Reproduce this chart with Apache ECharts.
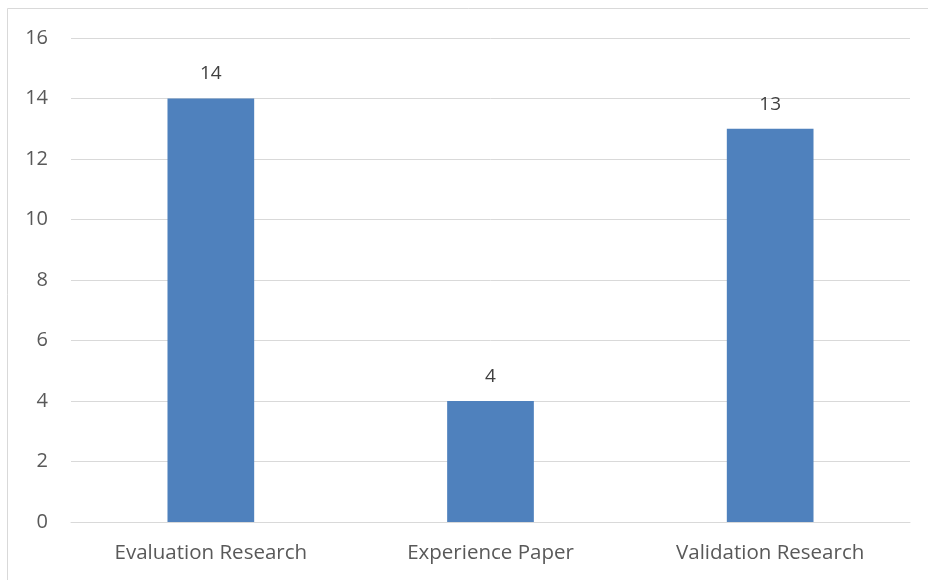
<!DOCTYPE html>
<html>
<head>
<meta charset="utf-8">
<script src="https://cdn.jsdelivr.net/npm/echarts@6/dist/echarts.min.js"></script>
<style>
  html, body { margin: 0; padding: 0; background: #fff; }
  #chart { width: 928px; height: 580px; }
</style>
</head>
<body>
<div id="chart"></div>
<script>
// Paper counts per research type
const categories = ['Evaluation Research', 'Experience Paper', 'Validation Research'];
const counts = [14, 4, 13];
const yTicks = { min: 0, max: 16, interval: 2 };

const textColor = '#595959';
const font = '"Open Sans", "Liberation Sans", sans-serif';

const chart = echarts.init(document.getElementById('chart'), null, { renderer: 'canvas' });
chart.setOption({
  backgroundColor: '#fff',
  animation: false,
  graphic: [{
    type: 'rect',
    shape: { x: 7.5, y: 8.5, width: 1000, height: 1000 },
    style: { fill: 'none', stroke: '#d9d9d9', lineWidth: 1 },
    silent: true
  }],
  grid: { left: 71, right: 18, top: 38, bottom: 58, containLabel: false },
  xAxis: {
    type: 'category',
    data: categories,
    axisLine: { show: true, lineStyle: { color: '#d9d9d9', width: 1 } },
    axisTick: { show: false },
    axisLabel: { color: textColor, fontSize: 20.5, fontFamily: font, margin: 21 }
  },
  yAxis: {
    type: 'value',
    min: yTicks.min, max: yTicks.max, interval: yTicks.interval,
    axisLine: { show: false },
    axisTick: { show: false },
    splitLine: { lineStyle: { color: '#d9d9d9', width: 1 } },
    axisLabel: { color: textColor, fontSize: 20, fontFamily: font, margin: 23 }
  },
  series: [{
    type: 'bar',
    data: counts,
    barWidth: '31%',
    itemStyle: { color: '#4f81bd' },
    label: {
      show: true, position: 'top', distance: 15,
      color: '#404040', fontSize: 19, fontFamily: font
    }
  }]
});
</script>
</body>
</html>
